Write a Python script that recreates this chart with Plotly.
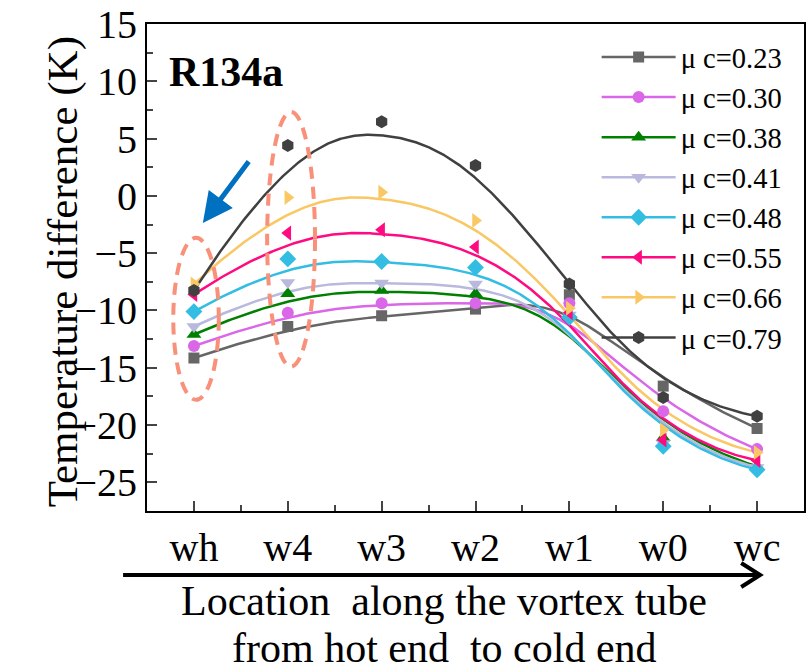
import numpy as np
import plotly.graph_objects as go

# Measurement locations along the tube (hot end -> cold end)
locations = ["wh", "w4", "w3", "w2", "w1", "w0", "wc"]

# Temperature difference (K) for each cold mass fraction
mu_023 = [-14.15, -11.4, -10.46, -9.88, -8.63, -16.6, -20.3]
mu_030 = [-13.1, -10.2, -9.36, -9.36, -9.36, -18.8, -22.1]
mu_038 = [-12.1, -8.55, -8.25, -8.55, -10.5, -21.1, -23.6]
mu_041 = [-11.4, -7.56, -7.6, -7.7, -10.4, -21.6, -23.7]
mu_048 = [-10.1, -5.5, -5.73, -6.25, -10.6, -21.85, -23.9]
mu_055 = [-8.6, -3.25, -2.96, -4.47, -10.2, -21.3, -23.1]
mu_066 = [-7.7, -0.15, 0.32, -2.15, -9.8, -20.4, -22.4]
mu_079 = [-8.26, 4.39, 6.48, 2.65, -7.7, -17.6, -19.24]

labels = ["μ c=0.23", "μ c=0.30", "μ c=0.38", "μ c=0.41",
          "μ c=0.48", "μ c=0.55", "μ c=0.66", "μ c=0.79"]
colors = ["#666666", "#DA66E8", "#008000", "#B9B9DD",
          "#33BDE3", "#FF0A80", "#F9C764", "#404040"]
symbols = ["square", "circle", "triangle-up", "triangle-down",
           "diamond", "triangle-left", "triangle-right", "hexagon"]
msizes = [11, 12, 13, 13, 13, 13, 13, 13]

series = [mu_023, mu_030, mu_038, mu_041, mu_048, mu_055, mu_066, mu_079]

FONT = "Liberation Serif"
xpos = np.arange(len(locations), dtype=float)


def bspline(cx, cy, deg=3, n=400):
    """Clamped uniform B-spline using the points as control points."""
    cx, cy = np.asarray(cx, float), np.asarray(cy, float)
    m = len(cx)
    inner = np.arange(1, m - deg)
    knots = np.concatenate([np.zeros(deg + 1), inner, np.full(deg + 1, m - deg)])
    ts = np.linspace(0, m - deg, n)
    out_x, out_y = [], []
    for t in ts:
        k = np.searchsorted(knots, t, side="right") - 1
        k = min(k, m - 1)
        dx = [cx[j + k - deg] for j in range(deg + 1)]
        dy = [cy[j + k - deg] for j in range(deg + 1)]
        for r in range(1, deg + 1):
            for j in range(deg, r - 1, -1):
                den = knots[j + 1 + k - r] - knots[j + k - deg]
                a = 0.0 if den == 0 else (t - knots[j + k - deg]) / den
                dx[j] = (1 - a) * dx[j - 1] + a * dx[j]
                dy[j] = (1 - a) * dy[j - 1] + a * dy[j]
        out_x.append(dx[deg])
        out_y.append(dy[deg])
    return out_x, out_y


fig = go.Figure()

# Smoothed B-spline curves through the measured points
for vals, col in zip(series, colors):
    bx, by = bspline(xpos, vals)
    fig.add_trace(go.Scatter(x=bx, y=by, mode="lines",
                             line=dict(color=col, width=2.5),
                             showlegend=False, hoverinfo="skip"))

# Measured points
for vals, col, sym, ms in zip(series, colors, symbols, msizes):
    fig.add_trace(go.Scatter(x=xpos, y=vals, mode="markers",
                             marker=dict(color=col, symbol=sym, size=ms),
                             showlegend=False))

# Legend entries
for lab, col, sym, ms in zip(labels, colors, symbols, msizes):
    fig.add_trace(go.Scatter(x=[None], y=[None], mode="lines+markers", name=lab,
                             line=dict(color=col, width=2.5),
                             marker=dict(color=col, symbol=sym, size=ms)))

W, H = 808, 671
L, R, T, B = 147, 2, 24, 160
pw, ph = W - L - R, H - T - B


def px(x):
    return (x - L) / pw


def py(y):
    return 1 - (y - T) / ph


fig.update_layout(
    width=W, height=H,
    margin=dict(l=L, r=R, t=T, b=B),
    paper_bgcolor="white", plot_bgcolor="white",
    font=dict(family=FONT, color="black"),
    showlegend=True,
    legend=dict(x=px(598), y=py(32), xanchor="left", yanchor="top",
                font=dict(family=FONT, size=28.5), bgcolor="rgba(0,0,0,0)",
                itemwidth=74, tracegroupgap=0),
    xaxis=dict(range=[-0.5, 6.5], tickmode="array", tickvals=list(xpos),
               ticktext=locations, ticks="inside", ticklen=10, tickwidth=1.5,
               showline=True, linecolor="black", linewidth=2, mirror=True,
               showgrid=False, zeroline=False,
               tickfont=dict(family=FONT, size=40),
               minor=dict(dtick=0.5, tick0=0, ticks="inside", ticklen=6,
                          tickwidth=1.5, showgrid=False)),
    yaxis=dict(range=[-27.5, 15], tickmode="linear", tick0=-25, dtick=5,
               ticks="inside", ticklen=10, tickwidth=1.5,
               showline=True, linecolor="black", linewidth=2, mirror=True,
               showgrid=False, zeroline=False,
               tickfont=dict(family=FONT, size=40),
               minor=dict(dtick=2.5, tick0=0, ticks="inside", ticklen=6,
                          tickwidth=1.5, showgrid=False)),
)

# Dashed ellipses highlighting the hot-end locations
fig.add_shape(type="circle", xref="x", yref="y", x0=-0.22, x1=0.265, y0=-17.8, y1=-3.66,
              line=dict(color="#F8907A", width=4, dash="12px,8px"))
fig.add_shape(type="circle", xref="x", yref="y", x0=0.78, x1=1.29, y0=-14.9, y1=7.33,
              line=dict(color="#F8907A", width=4, dash="12px,8px"))

# Direction arrow below the axis
fig.add_shape(type="line", xref="paper", yref="paper", x0=px(123), x1=px(760),
              y0=py(575), y1=py(575), line=dict(color="black", width=4))
fig.add_shape(type="path", xref="paper", yref="paper",
              path=f"M {px(743)} {py(563)} L {px(762)} {py(575)} L {px(743)} {py(587)}",
              line=dict(color="black", width=4))

# Blue pointer arrow
fig.add_annotation(x=px(203), y=py(223), xref="paper", yref="paper",
                   ax=47, ay=-63, showarrow=True, arrowhead=2, arrowsize=1.2,
                   arrowwidth=5, arrowcolor="#0070C0", text="")

fig.add_annotation(x=px(167), y=py(72), xref="paper", yref="paper", xanchor="left",
                   yanchor="middle", showarrow=False, text="<b>R134a</b>",
                   font=dict(family=FONT, size=42, color="black"))

fig.add_annotation(x=px(37), y=py(272), xref="paper", yref="paper", textangle=-90,
                   showarrow=False, text="Temperature difference (K)",
                   font=dict(family=FONT, size=43, color="black"))

fig.add_annotation(x=px(445), y=py(601), xref="paper", yref="paper", yanchor="middle",
                   showarrow=False, text="Location  along the vortex tube",
                   font=dict(family=FONT, size=42, color="black"))
fig.add_annotation(x=px(445), y=py(648), xref="paper", yref="paper", yanchor="middle",
                   showarrow=False, text="from hot end  to cold end",
                   font=dict(family=FONT, size=42, color="black"))

fig.write_html("out.html")
